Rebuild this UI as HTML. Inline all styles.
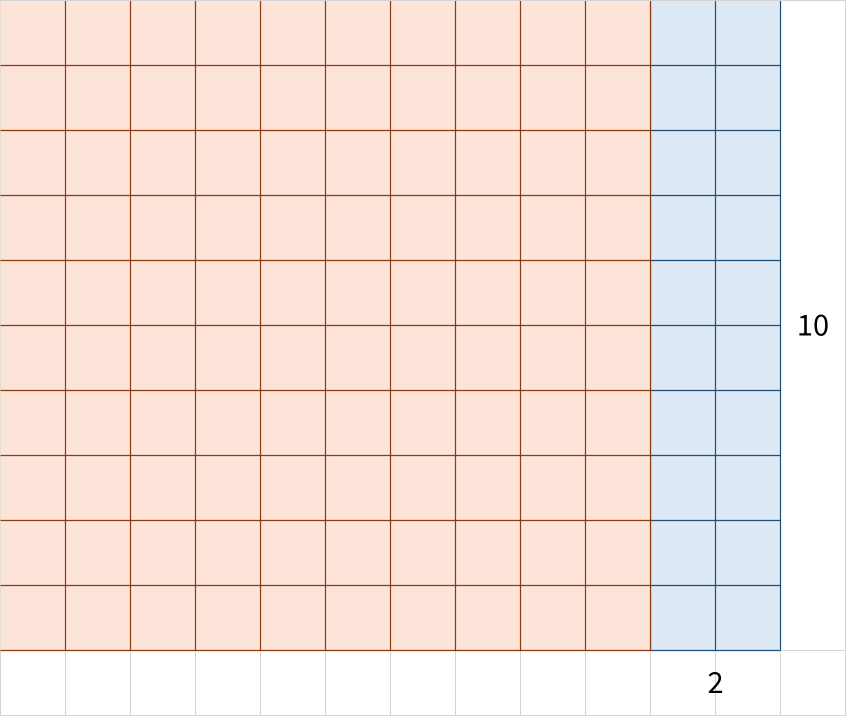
<!DOCTYPE html>
<html><head><meta charset="utf-8"><style>
html,body{margin:0;padding:0;background:#fff;}
svg{display:block;}
</style></head><body>
<svg id="chart" width="846" height="716" viewBox="0 0 846 716"></svg>
<script>
const mainWidth = [10];
const extraWidth = [2];
const heightUnits = [10];
const labels = ["10", "2"];

const cell = 65;
const ns = "http://www.w3.org/2000/svg";
const svg = document.getElementById('chart');
const sx = u => u * cell + 0.5;
const sy = u => u * cell + 0.5;
function mk(tag, attrs, parent) {
  const el = document.createElementNS(ns, tag);
  for (const k in attrs) el.setAttribute(k, attrs[k]);
  (parent || svg).appendChild(el);
  return el;
}
const W = mainWidth[0], E = extraWidth[0], H = heightUnits[0];
const totalCols = W + E + 1, totalRows = H + 1;

// background gray grid (outer frame + bottom row only)
const bg = mk('g', {});


for (let i = 0; i <= totalCols; i++) mk('line', {x1: sx(i), y1: 0, x2: sx(i), y2: 716, stroke: '#d4d4d4', 'stroke-width': 1}, bg);
[0, H, totalRows].forEach(j => mk('line', {x1: 0, y1: sy(j), x2: 846, y2: sy(j), stroke: '#d4d4d4', 'stroke-width': 1}, bg));
// blank the right column interior
mk('rect', {x: sx(W + E) + 1, y: 1, width: cell - 1.5, height: H * cell - 1, fill: '#fff'}, bg);

function region(x0, w, fill, stroke, name) {
  const g = mk('g', {});
  
  
  mk('rect', {x: sx(x0), y: 1, width: w * cell, height: H * cell - 0.5, fill: fill}, g);
  for (let i = 0; i <= w; i++) {
    if (i === 0 && x0 === 0) continue;
    mk('line', {x1: sx(x0 + i), y1: 1, x2: sx(x0 + i), y2: sy(H), stroke: stroke, 'stroke-width': 1.2}, g);
  }
  for (let j = 1; j <= H; j++) mk('line', {x1: sx(x0), y1: sy(j), x2: sx(x0 + w), y2: sy(j), stroke: stroke, 'stroke-width': 1.2}, g);
  return g;
}
region(W, E, '#ddeaf6', '#1f4e7d', 'extra-region');
region(0, W, '#fde4d8', '#8c3b0c', 'main-region');

const font = '"Noto Sans CJK JP", "Liberation Sans", sans-serif';
const t1 = mk('text', {x: sx(W + E) + cell / 2, y: sy(H / 2) + 10, 'text-anchor': 'middle', 'font-size': 29, 'font-family': font, fill: '#000'});
t1.textContent = labels[0];


const t2 = mk('text', {x: sx(W + E / 2), y: sy(H) + cell / 2 + 10, 'text-anchor': 'middle', 'font-size': 29, 'font-family': font, fill: '#000'});
t2.textContent = labels[1];


</script>
</body></html>
